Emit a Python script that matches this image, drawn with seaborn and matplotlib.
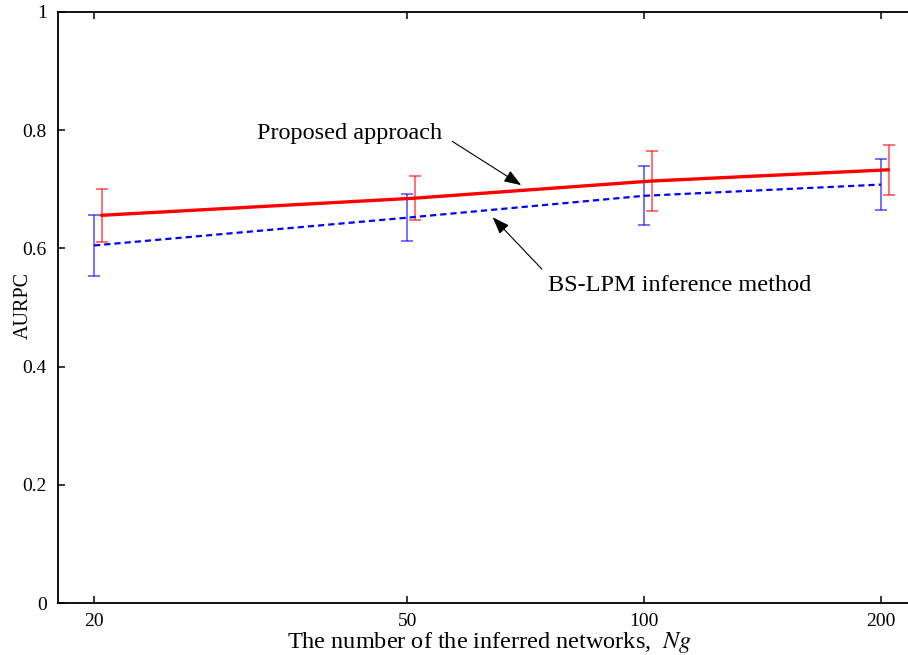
import matplotlib
matplotlib.use("Agg")
import matplotlib.pyplot as plt
import matplotlib.transforms as mtransforms
from matplotlib.ticker import FixedLocator, FixedFormatter
import seaborn as sns
import pandas as pd

# ---- data ----
n_networks = [20, 50, 100, 200]
x_tick_labels = ["20", "50", "100", "200"]
proposed_mean = [0.656, 0.685, 0.714, 0.733]
proposed_err = [0.045, 0.037, 0.050, 0.042]
bslpm_mean = [0.605, 0.652, 0.689, 0.708]
bslpm_err = [0.052, 0.040, 0.050, 0.043]
y_ticks = [0, 0.2, 0.4, 0.6, 0.8, 1.0]
y_tick_labels = ["0", "0.2", "0.4", "0.6", "0.8", "1"]

df_prop = pd.DataFrame({"N": n_networks, "AURPC": proposed_mean})
df_bs = pd.DataFrame({"N": n_networks, "AURPC": bslpm_mean})

sns.set_theme(style="white")
plt.rcParams["font.family"] = ["Liberation Serif", "DejaVu Serif"]
plt.rcParams["mathtext.fontset"] = "stix"

fig = plt.figure(figsize=(9.08, 6.55), dpi=100)
ax = fig.add_axes([58 / 908, 52 / 655, 855.6 / 908, 591 / 655])
ax.set_xscale("log")
ax.set_xlim(18, 220)
ax.set_ylim(0, 1)

# red series drawn slightly to the right of the blue one
red_shift = mtransforms.ScaledTranslation(7.5 / 100, 0, fig.dpi_scale_trans)
red_trans = ax.transData + red_shift

sns.lineplot(data=df_bs, x="N", y="AURPC", ax=ax, color="#0000ff",
             linewidth=1.6, linestyle=(0, (2.8, 1.8)), zorder=3)
sns.lineplot(data=df_prop, x="N", y="AURPC", ax=ax, color="#ff0000",
             linewidth=2.4, transform=red_trans, zorder=4)

ax.errorbar(n_networks, bslpm_mean, yerr=bslpm_err, fmt="none",
            ecolor="#0000ff", alpha=0.7, elinewidth=1.1, capsize=4.5,
            capthick=1.1, zorder=2)
ax.errorbar(n_networks, proposed_mean, yerr=proposed_err, fmt="none",
            ecolor="#ff0000", alpha=0.7, elinewidth=1.1, capsize=4.5,
            capthick=1.1, transform=red_trans, zorder=2)

ax.xaxis.set_major_locator(FixedLocator(n_networks))
ax.xaxis.set_major_formatter(FixedFormatter(x_tick_labels))
ax.xaxis.set_minor_locator(FixedLocator([]))
ax.set_yticks(y_ticks)
ax.set_yticklabels(y_tick_labels)

ax.tick_params(axis="x", which="major", direction="in", length=5, width=1.1,
               top=True, bottom=True, labelsize=14, pad=7, colors="black")
ax.tick_params(axis="y", which="major", direction="in", length=5, width=1.1,
               left=True, right=False, labelsize=14, pad=8, colors="black")

for side in ["left", "bottom", "top"]:
    ax.spines[side].set_visible(True)
    ax.spines[side].set_color("black")
    ax.spines[side].set_linewidth(1.3)
ax.spines["right"].set_visible(False)

ax.set_xlabel("The number of the inferred networks,  $Ng$", fontsize=17.5,
              color="black")
ax.xaxis.set_label_coords((490 - 58) / 855.6, -(648 - 603) / 591)
ax.xaxis.label.set_va("baseline")
ax.set_ylabel("AURPC", fontsize=14.5, color="black")
ax.yaxis.set_label_coords(-(58 - 33) / 855.6, 0.504)

arrow = dict(arrowstyle="-|>,head_length=0.6,head_width=0.22", color="black",
             lw=0.8, shrinkA=6, shrinkB=0)
ax.annotate("Proposed approach", xy=(69.8, 0.707), xytext=(32.2, 0.794),
            fontsize=17.5, ha="left", va="center", color="black",
            arrowprops=dict(arrow, relpos=(1.0, 0.45)))
ax.annotate("BS-LPM inference method", xy=(64.2, 0.6526), xytext=(75.5, 0.538),
            fontsize=17.5, ha="left", va="center", color="black",
            arrowprops=dict(arrow, relpos=(0.0, 0.95), shrinkA=3))

fig.savefig("out.png", dpi=100)
